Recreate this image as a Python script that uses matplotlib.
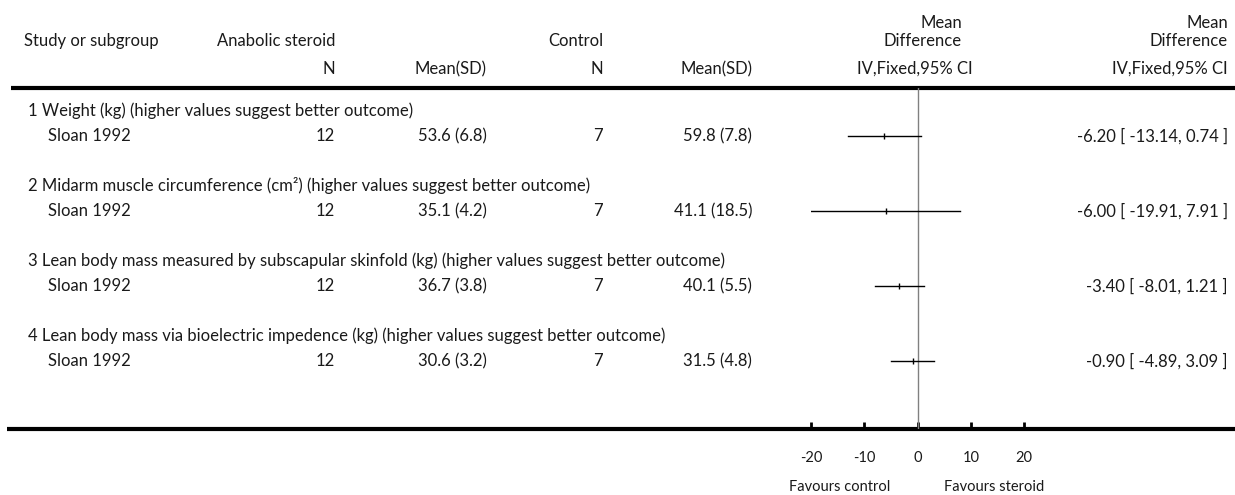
import matplotlib
matplotlib.use("Agg")
import matplotlib.pyplot as plt

plt.rcParams['font.family'] = ['Lato', 'DejaVu Sans']

# data
subgroups = [
    "1 Weight (kg) (higher values suggest better outcome)",
    "2 Midarm muscle circumference (cm²) (higher values suggest better outcome)",
    "3 Lean body mass measured by subscapular skinfold (kg) (higher values suggest better outcome)",
    "4 Lean body mass via bioelectric impedence (kg) (higher values suggest better outcome)",
]
studies = ["Sloan 1992", "Sloan 1992", "Sloan 1992", "Sloan 1992"]
n_steroid = [12, 12, 12, 12]
mean_steroid = [53.6, 35.1, 36.7, 30.6]
sd_steroid = [6.8, 4.2, 3.8, 3.2]
n_control = [7, 7, 7, 7]
mean_control = [59.8, 41.1, 40.1, 31.5]
sd_control = [7.8, 18.5, 5.5, 4.8]
md = [-6.20, -6.00, -3.40, -0.90]
ci_low = [-13.14, -19.91, -8.01, -4.89]
ci_high = [0.74, 7.91, 1.21, 3.09]
xticks = [-20, -10, 0, 10, 20]

W, H = 1235, 495
fs = 12
txt = '#1a1a1a'
fig = plt.figure(figsize=(W / 100, H / 100), dpi=100)

# background axes in pixel units for the table part
bg = fig.add_axes([0, 0, 1, 1])
bg.set_xlim(0, W)
bg.set_ylim(H, 0)
bg.axis('off')

top_line = 88
axis_y = 429
row0 = 111
step = 25


def put(x, y, s, ha='left', size=fs):
    bg.text(x, y, s, fontsize=size, va='center', ha=ha, color=txt)


# header
put(24, 41, "Study or subgroup")
put(217, 41, "Anabolic steroid")
put(603, 41, "Control", 'right')
put(335, 69, "N", 'right')
put(487, 69, "Mean(SD)", 'right')
put(603, 69, "N", 'right')
put(752, 69, "Mean(SD)", 'right')
put(962, 23, "Mean", 'right')
put(962, 41, "Difference", 'right')
put(973, 69, "IV,Fixed,95% CI", 'right')
put(1228, 23, "Mean", 'right')
put(1228, 41, "Difference", 'right')
put(1228, 69, "IV,Fixed,95% CI", 'right')

bg.plot([11, W], [top_line, top_line], color='black', lw=3, solid_capstyle='butt')
bg.plot([7, W], [axis_y, axis_y], color='black', lw=3, solid_capstyle='butt')

for k in range(len(subgroups)):
    yh = row0 + 3 * k * step
    ys = yh + step
    put(28, yh, subgroups[k])
    put(48, ys, studies[k])
    put(335, ys, str(n_steroid[k]), 'right')
    put(487, ys, f"{mean_steroid[k]} ({sd_steroid[k]})", 'right')
    put(603, ys, str(n_control[k]), 'right')
    put(752, ys, f"{mean_control[k]} ({sd_control[k]})", 'right')
    put(1228, ys, f"{md[k]:.2f} [ {ci_low[k]:.2f}, {ci_high[k]:.2f} ]", 'right')

put(890, 487, "Favours control", 'right', fs - 1.5)
put(944, 487, "Favours steroid", 'left', fs - 1.5)

# forest axes: x in mean difference units, y in pixels
x0, x1 = 811, 1024
ax = fig.add_axes([x0 / W, (H - axis_y) / H, (x1 - x0) / W, (axis_y - top_line) / H])
ax.set_xlim(xticks[0], xticks[-1])
ax.set_ylim(axis_y, top_line)
ax.patch.set_alpha(0)
for s in ax.spines.values():
    s.set_visible(False)
ax.set_yticks([])
ax.set_xticks(xticks)
ax.set_xticklabels([str(t) for t in xticks], fontsize=fs - 1.5, color=txt)
ax.tick_params(axis='x', direction='in', length=5, width=2, pad=16)

ax.axvline(0, color='#808080', lw=1)
for k in range(len(md)):
    ys = row0 + 3 * k * step + step
    ax.plot([ci_low[k], ci_high[k]], [ys, ys], color='black', lw=1)
    ax.plot([md[k]], [ys], marker='|', color='black', markersize=5, mew=1)

fig.savefig("out.png", dpi=100)
